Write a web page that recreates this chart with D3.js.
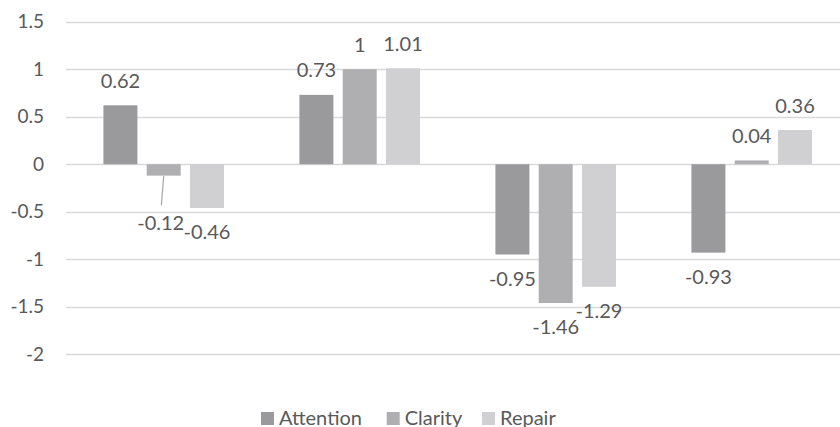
<!DOCTYPE html>
<html><head><meta charset="utf-8">
<script src="https://cdn.jsdelivr.net/npm/d3@7"></script>
<style>body{margin:0;background:#fff;} svg{display:block;}</style>
</head><body>
<svg id="chart" width="840" height="427"></svg>
<script>
const categories = ["G1", "G2", "G3", "G4"];
const seriesNames = ["Attention", "Clarity", "Repair"];
const attention = [0.62, 0.73, -0.95, -0.93];
const clarity = [-0.12, 1.00, -1.46, 0.04];
const repair = [-0.46, 1.01, -1.29, 0.36];
const labelTexts = [
  ["0.62", "0.73", "-0.95", "-0.93"],
  ["-0.12", "1", "-1.46", "0.04"],
  ["-0.46", "1.01", "-1.29", "0.36"]
];
const yTicks = [1.5, 1, 0.5, 0, -0.5, -1, -1.5, -2];
const yTickLabels = ["1.5", "1", "0.5", "0", "-0.5", "-1", "-1.5", "-2"];

const values = [attention, clarity, repair];
const colors = ["#9a9a9d", "#afafb2", "#d0d0d2"];
const textColor = "#595959";
const font = "Lato, 'Open Sans', sans-serif";

const svg = d3.select("#chart");
const y = d3.scaleLinear().domain([-2, 1.5]).range([354.3, 21.7]);
const x0 = d3.scaleBand().domain(categories).range([65.7, 849.7]);
const x1 = d3.scaleBand().domain(seriesNames).range([0, x0.bandwidth()])
  .paddingInner(0.215).paddingOuter(0.871);

// gridlines
svg.append("g").selectAll("line").data(yTicks).join("line")
  .attr("x1", 66).attr("x2", 850)
  .attr("y1", d => Math.round(y(d)) + 0.5).attr("y2", d => Math.round(y(d)) + 0.5)
  .attr("stroke", "#d9d9d9").attr("stroke-width", 1.3);

// y axis labels
const yAxis = d3.axisLeft(y).tickValues(yTicks).tickSize(0).tickPadding(0)
  .tickFormat((d, i) => yTickLabels[i]);
const ya = svg.append("g").attr("transform", "translate(44,0)").call(yAxis);
ya.select(".domain").remove();
ya.selectAll("text").attr("fill", textColor).style("font-family", font).style("font-size", "19px");

// bars
const bars = [];
values.forEach((arr, si) => arr.forEach((v, ci) => bars.push({si, ci, v})));
svg.append("g").selectAll("rect").data(bars).join("rect")
  .attr("x", d => x0(categories[d.ci]) + x1(seriesNames[d.si]))
  .attr("width", x1.bandwidth())
  .attr("y", d => y(Math.max(0, d.v)))
  .attr("height", d => Math.abs(y(d.v) - y(0)))
  .attr("fill", d => colors[d.si]);

// data labels
const nudge = {"1-0": 23}; // manually moved label (with leader line)
const lg = svg.append("g");
bars.forEach(d => {
  const cx = x0(categories[d.ci]) + x1(seriesNames[d.si]) + x1.bandwidth() / 2;
  let ly = d.v >= 0 ? y(d.v) - 17.5 : y(d.v) + 31.5;
  const key = d.si + "-" + d.ci;
  let lx = cx;
  if (nudge[key]) {
    ly += nudge[key];
    lx = cx - 3;
    lg.append("line").attr("x1", cx).attr("y1", y(d.v) + 0.5)
      .attr("x2", cx - 2.3).attr("y2", ly - 25)
      .attr("stroke", "#a6a6a6").attr("stroke-width", 1.2);
  }
  lg.append("text").attr("x", lx).attr("y", ly).attr("text-anchor", "middle")
    .attr("fill", textColor).style("font-family", font).style("font-size", "20px")
    .text(labelTexts[d.si][d.ci]);
});

// legend
const legendX = [261, 386.7, 482];
const leg = svg.append("g");
seriesNames.forEach((name, i) => {
  leg.append("rect").attr("x", legendX[i]).attr("y", 412).attr("width", 13).attr("height", 13)
    .attr("fill", colors[i]);
  leg.append("text").attr("x", legendX[i] + 18).attr("y", 424.5)
    .attr("fill", textColor).style("font-family", font).style("font-size", "20px")
    .text(name);
});
</script>
</body></html>
